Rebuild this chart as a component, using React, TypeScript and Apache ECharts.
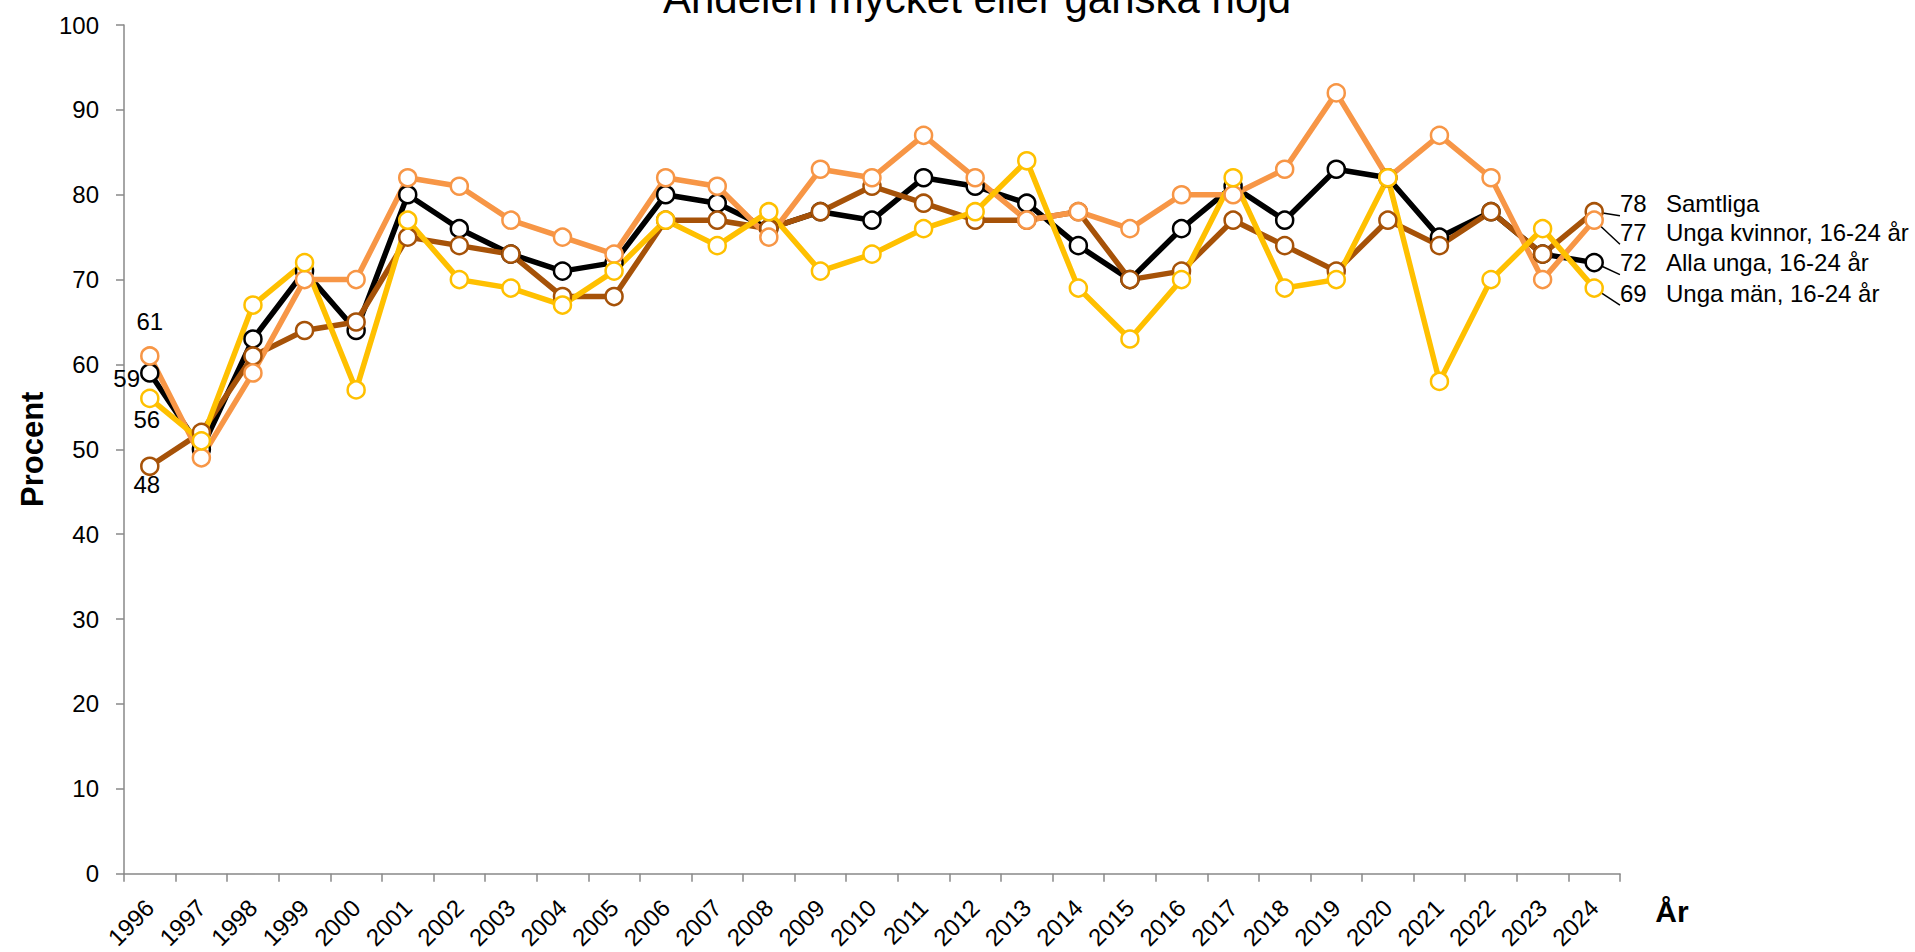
import React, { useEffect, useRef } from 'react';
import * as echarts from 'echarts';

const titleText = 'Andelen mycket eller ganska nöjd';
const yAxisName = 'Procent';
const xAxisName = 'År';

const years = ['1996', '1997', '1998', '1999', '2000', '2001', '2002', '2003', '2004', '2005', '2006', '2007', '2008', '2009', '2010', '2011', '2012', '2013', '2014', '2015', '2016', '2017', '2018', '2019', '2020', '2021', '2022', '2023', '2024'];

const samtliga = [48, 52, 61, 64, 65, 75, 74, 73, 68, 68, 77, 77, 76, 78, 81, 79, 77, 77, 78, 70, 71, 77, 74, 71, 77, 74, 78, 73, 78];
const ungaKvinnor = [61, 49, 59, 70, 70, 82, 81, 77, 75, 73, 82, 81, 75, 83, 82, 87, 82, 77, 78, 76, 80, 80, 83, 92, 82, 87, 82, 70, 77];
const allaUnga = [59, 50, 63, 71, 64, 80, 76, 73, 71, 72, 80, 79, 76, 78, 77, 82, 81, 79, 74, 70, 76, 81, 77, 83, 82, 75, 78, 73, 72];
const ungaMan = [56, 51, 67, 72, 57, 77, 70, 69, 67, 71, 77, 74, 78, 71, 73, 76, 78, 84, 69, 63, 70, 82, 69, 70, 82, 58, 70, 76, 69];

const seriesNames = ['Alla unga, 16-24 år', 'Samtliga', 'Unga kvinnor, 16-24 år', 'Unga män, 16-24 år'];
const seriesColors = ['#000000', '#A65208', '#F79646', '#FFC000'];

const FONT = '"Liberation Sans", Arial, Helvetica, sans-serif';

export default function App() {
  const ref = useRef<HTMLDivElement>(null);

  useEffect(() => {
    if (!ref.current) return;
    const chart = echarts.init(ref.current, null, { renderer: 'svg' });

    const firstLabels: any[] = [
      { position: 'left', distance: 0, offset: [0, 6] },
      { position: 'bottom', distance: 0, offset: [-3, -4] },
      { position: 'top', distance: 13, offset: [0, 0] },
      { position: 'bottom', distance: 0, offset: [-3, -1] },
    ];
    const lastDy = [0, -8, 12, 5];
    const allData = [allaUnga, samtliga, ungaKvinnor, ungaMan];

    const series = allData.map((vals, si) => {
      const color = seriesColors[si];
      const name = seriesNames[si];
      return {
        type: 'line',
        name,
        data: vals.map((v, i) => {
          if (i === 0) {
            return {
              value: v,
              label: { show: true, ...firstLabels[si], color: '#000', fontSize: 24, fontFamily: FONT, formatter: '{c}' },
            };
          }
          if (i === vals.length - 1) {
            return {
              value: v,
              label: {
                show: true,
                position: 'right',
                distance: 16,
                offset: [0, lastDy[si]],
                formatter: '{v|{c}}{n|' + name + '}',
                rich: {
                  v: { fontSize: 24, color: '#000', fontFamily: FONT, width: 46 },
                  n: { fontSize: 24, color: '#000', fontFamily: FONT },
                },
              },
              labelLine: { show: true, lineStyle: { color: '#000', width: 1.5 } },
            };
          }
          return v;
        }),
        symbol: 'circle',
        symbolSize: 17,
        showSymbol: true,
        lineStyle: { color, width: 5.5 },
        itemStyle: { color: '#ffffff', borderColor: color, borderWidth: 2.5 },
        label: { show: false },
        emphasis: { disabled: true },
        silent: true,
        z: 2,
      };
    });

    const axisGray = '#888888';

    chart.setOption({
      animation: false,
      textStyle: { fontFamily: FONT },
      grid: { left: 124, right: 295, top: 25, bottom: 75.3, containLabel: false },
      xAxis: {
        type: 'category',
        data: years,
        boundaryGap: true,
        axisLine: { show: true, lineStyle: { color: axisGray, width: 1.5 } },
        axisTick: { show: true, length: 8, alignWithLabel: false, lineStyle: { color: axisGray, width: 1.5 } },
        axisLabel: { rotate: 45, fontSize: 24, color: '#000', margin: 30, interval: 0, fontFamily: FONT },
        splitLine: { show: false },
      },
      yAxis: {
        type: 'value',
        min: 0,
        max: 100,
        interval: 10,
        name: yAxisName,
        nameLocation: 'middle',
        nameGap: 76,
        nameTextStyle: { fontSize: 31, fontWeight: 'bold', color: '#000', fontFamily: FONT },
        axisLine: { show: true, lineStyle: { color: axisGray, width: 1.5 } },
        axisTick: { show: true, length: 8, lineStyle: { color: axisGray, width: 1.5 } },
        axisLabel: { fontSize: 24, color: '#000', margin: 25, fontFamily: FONT },
        splitLine: { show: false },
      },
      graphic: [
        {
          type: 'text',
          x: 977,
          y: -2,
          silent: true,
          style: { text: titleText, fontSize: 42, fontFamily: FONT, fill: '#000', align: 'center', verticalAlign: 'middle' },
        },
        {
          type: 'text',
          x: 1672,
          y: 911,
          silent: true,
          style: { text: xAxisName, fontSize: 30, fontWeight: 'bold', fontFamily: FONT, fill: '#000', align: 'center', verticalAlign: 'middle' },
        },
      ],
      series,
    });

    return () => chart.dispose();
  }, []);

  return (
    <div
      ref={ref}
      style={{ position: 'fixed', left: 0, top: 0, width: '1915px', height: '952px', background: '#fff' }}
    />
  );
}
